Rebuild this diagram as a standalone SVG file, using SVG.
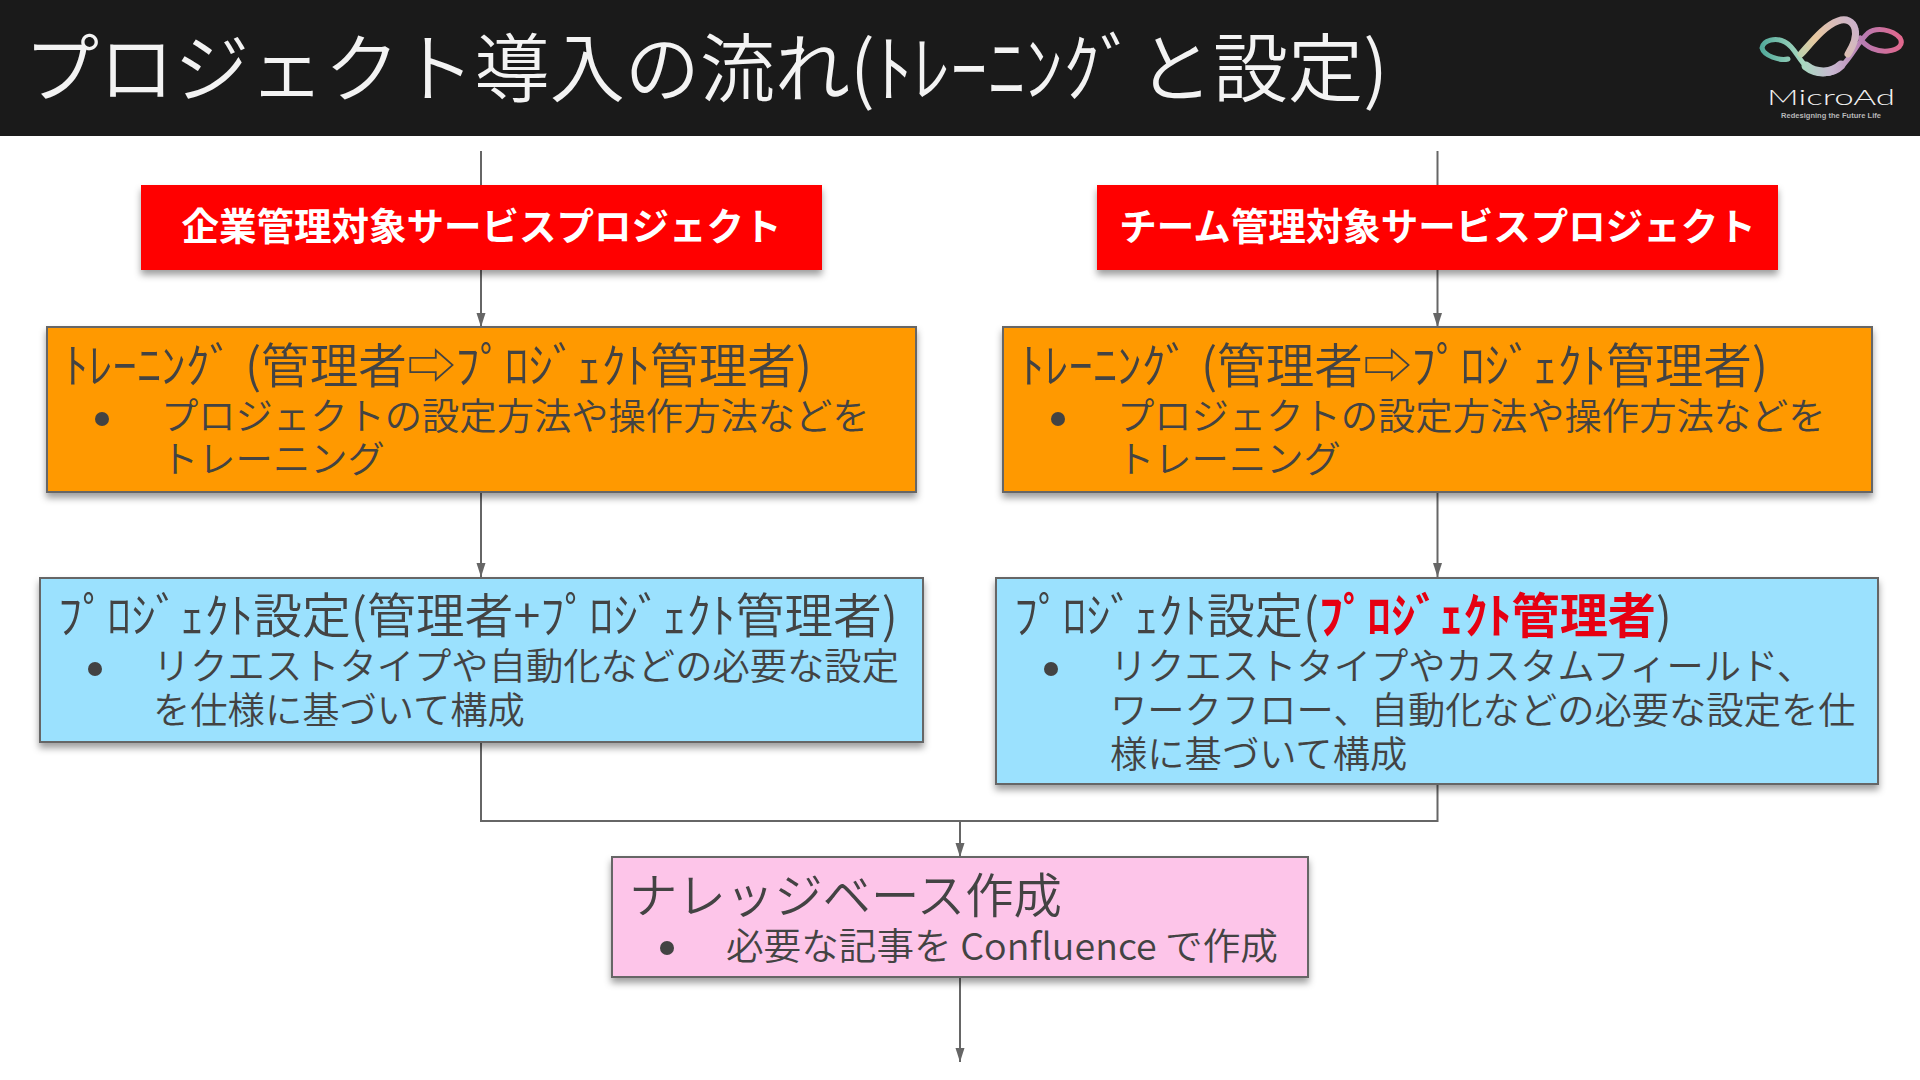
<svg xmlns="http://www.w3.org/2000/svg" width="1920" height="1080" viewBox="0 0 1920 1080">
<defs>
<style>
text{font-family:"Noto Sans CJK JP","Noto Sans",sans-serif;fill:#434343;font-weight:350}
.box{stroke:#666;stroke-width:2;filter:url(#sh)}
.h{font-size:48px}
.b{font-size:37.300px}
.c{fill:none;stroke:#666;stroke-width:2}
.a{marker-end:url(#ar)}
.dot{fill:#434343}
.logo{fill:none;stroke-linecap:round}
</style>
<filter id="sh" x="-5%" y="-10%" width="110%" height="125%"><feDropShadow dx="0" dy="5" stdDeviation="3.500" flood-color="#000" flood-opacity="0.38"/></filter>
<marker id="ar" viewBox="0 0 14 10" refX="14" refY="5" markerWidth="14" markerHeight="10" orient="auto" markerUnits="userSpaceOnUse"><path d="M0 0.500L14 5L0 9.500Z" fill="#666"/></marker>
<linearGradient id="lg" x1="1760" y1="50" x2="1900" y2="40" gradientUnits="userSpaceOnUse"><stop offset="0" stop-color="#4fa89a"/><stop offset=".3" stop-color="#a8d8c0"/><stop offset=".5" stop-color="#c8b8d0"/><stop offset=".75" stop-color="#b87ab0"/><stop offset="1" stop-color="#e0688e"/></linearGradient>
<linearGradient id="lg2" x1="1790" y1="60" x2="1860" y2="20" gradientUnits="userSpaceOnUse"><stop offset="0" stop-color="#a8d8b8"/><stop offset=".4" stop-color="#e8c8a0"/><stop offset="1" stop-color="#c8b0d0"/></linearGradient>
</defs>
<rect width="1920" height="1080" fill="#fff"/>
<g id="header">
<rect width="1920" height="136" fill="#1a1a1a"/>
<text x="24" y="96" font-size="75" style="fill:#f3f3f3" textLength="1364" lengthAdjust="spacingAndGlyphs">プロジェクト導入の流れ(ﾄﾚｰﾆﾝｸﾞと設定)</text>
</g>
<g id="logo">
<path class="logo" stroke="url(#lg)" stroke-width="5" d="M1788 59C1780 61 1764 56 1762 48C1763 40 1776 37 1785 42C1795 47 1798 60 1808 68C1818 76 1832 76 1842 66C1852 56 1858 42 1868 33C1876 27 1892 29 1900 38C1904 45 1898 50 1888 51C1878 52 1866 48 1860 38"/>
<path class="logo" stroke="url(#lg)" stroke-width="9" d="M1806 66C1816 74 1832 74 1841 65"/>
<path class="logo" stroke="url(#lg2)" stroke-width="7" d="M1801 54C1812 42 1824 26 1838 21C1846 18 1853 21 1855 29C1857 36 1853 46 1848 54"/>
<text x="1767" y="105" font-size="22" textLength="128" lengthAdjust="spacingAndGlyphs" style="font-family:'Lato','Liberation Sans',sans-serif;fill:#f0f0f0;font-weight:300">MicroAd</text>
<text x="1781" y="118" font-size="7.500" textLength="100" style="font-family:'Liberation Sans',sans-serif;fill:#b8b8b8;font-weight:700">Redesigning the Future Life</text>
</g>
<g id="connectors">
<path class="c" d="M481 151V185"/>
<path class="c" d="M1437.500 151V185"/>
<path class="c a" d="M481 270V327"/>
<path class="c a" d="M1437.500 270V327"/>
<path class="c a" d="M481 492V577"/>
<path class="c a" d="M1437.500 492V577"/>
<path class="c" d="M481 742V821H1437.500V784"/>
<path class="c a" d="M960 821V857"/>
<path class="c a" d="M960 977V1062"/>
</g>
<g id="n1"><rect class="box" x="141" y="185" width="681" height="85" fill="#f00" style="stroke:none"/>
<text x="481.500" y="240" text-anchor="middle" font-size="37.500" style="fill:#fff;font-weight:700">企業管理対象サービスプロジェクト</text></g>
<g id="n2"><rect class="box" x="1097" y="185" width="681" height="85" fill="#f00" style="stroke:none"/>
<text x="1437.500" y="240" text-anchor="middle" font-size="37.500" style="fill:#fff;font-weight:700">チーム管理対象サービスプロジェクト</text></g>
<g id="n3"><rect class="box" x="47" y="327" width="869" height="165" fill="#f90"/>
<text class="h" x="64" y="383" textLength="748" lengthAdjust="spacingAndGlyphs">ﾄﾚｰﾆﾝｸﾞ (管理者⇨ﾌﾟﾛｼﾞｪｸﾄ管理者)</text>
<circle class="dot" cx="102" cy="419" r="7"/>
<text class="b" x="161" y="430">プロジェクトの設定方法や操作方法などを</text>
<text class="b" x="161" y="473">トレーニング</text></g>
<g id="n4"><rect class="box" x="1003" y="327" width="869" height="165" fill="#f90"/>
<text class="h" x="1020" y="383" textLength="748" lengthAdjust="spacingAndGlyphs">ﾄﾚｰﾆﾝｸﾞ (管理者⇨ﾌﾟﾛｼﾞｪｸﾄ管理者)</text>
<circle class="dot" cx="1058" cy="419" r="7"/>
<text class="b" x="1117" y="430">プロジェクトの設定方法や操作方法などを</text>
<text class="b" x="1117" y="473">トレーニング</text></g>
<g id="n5"><rect class="box" x="40" y="578" width="883" height="164" fill="#9be1fe"/>
<text class="h" x="58" y="633" textLength="840" lengthAdjust="spacingAndGlyphs">ﾌﾟﾛｼﾞｪｸﾄ設定(管理者+ﾌﾟﾛｼﾞｪｸﾄ管理者)</text>
<circle class="dot" cx="95" cy="669" r="7"/>
<text class="b" x="153" y="680">リクエストタイプや自動化などの必要な設定</text>
<text class="b" x="153" y="724">を仕様に基づいて構成</text></g>
<g id="n6"><rect class="box" x="996" y="578" width="882" height="206" fill="#9be1fe"/>
<text class="h" x="1014" y="633" textLength="658" lengthAdjust="spacingAndGlyphs">ﾌﾟﾛｼﾞｪｸﾄ設定(<tspan style="fill:#e60012;font-weight:700">ﾌﾟﾛｼﾞｪｸﾄ管理者</tspan>)</text>
<circle class="dot" cx="1051" cy="669" r="7"/>
<text class="b" x="1110" y="680">リクエストタイプやカスタムフィールド、</text>
<text class="b" x="1110" y="724">ワークフロー、自動化などの必要な設定を仕</text>
<text class="b" x="1110" y="768">様に基づいて構成</text></g>
<g id="n7"><rect class="box" x="612" y="857" width="696" height="120" fill="#fdc5e9"/>
<text class="h" x="629" y="913" textLength="433" lengthAdjust="spacingAndGlyphs">ナレッジベース作成</text>
<circle class="dot" cx="667" cy="948" r="7"/>
<text class="b" x="726" y="960" textLength="552" lengthAdjust="spacingAndGlyphs">必要な記事を Confluence で作成</text></g>
</svg>
